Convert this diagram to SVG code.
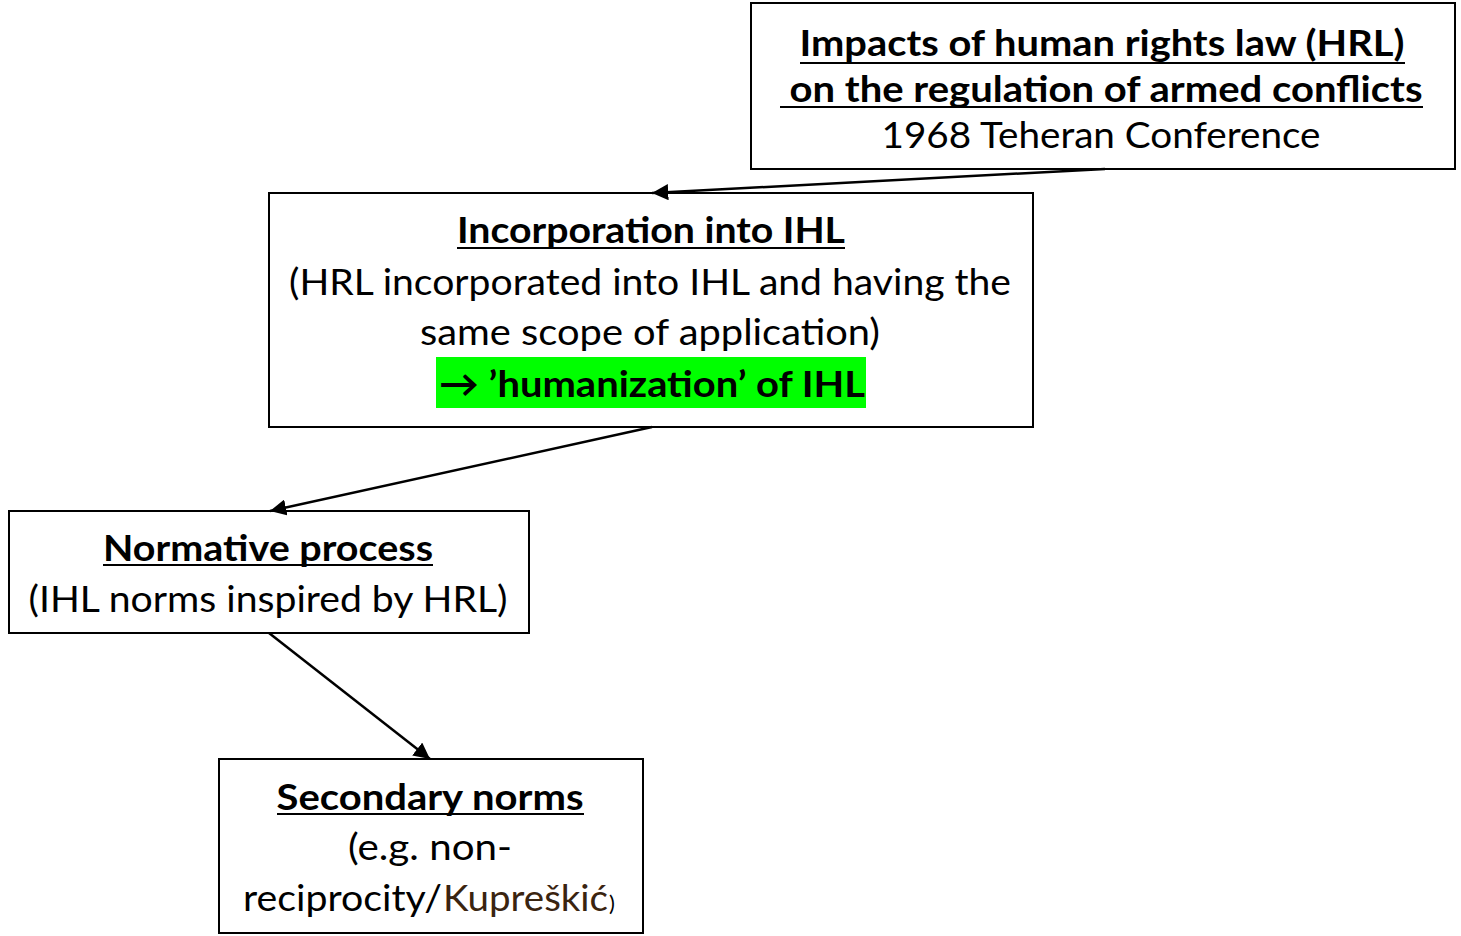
<svg xmlns="http://www.w3.org/2000/svg" width="1461" height="936" viewBox="0 0 1461 936">
<defs>
<style>
.box{fill:#fff;stroke:#000;stroke-width:2}
.t{font-family:Lato,"Open Sans","Liberation Sans",sans-serif;font-size:37px;fill:#000;text-anchor:middle}
.b{font-weight:bold}
.ul{stroke:#000;stroke-width:2}
.con{stroke:#000;stroke-width:2.5;fill:none;marker-end:url(#ah)}
</style>
<marker id="ah" viewBox="0 0 10 10" refX="10" refY="5" markerWidth="6.5" markerHeight="6.5" markerUnits="strokeWidth" orient="auto">
<path d="M0,0 L10,5 L0,10 z" fill="#000"/>
</marker>
</defs>
<rect width="1461" height="936" fill="#fff"/>
<g id="n1">
<rect class="box" x="751" y="3" width="704" height="166"/>
<text class="t b" x="1102" y="56" textLength="605" lengthAdjust="spacingAndGlyphs">Impacts of human rights law (HRL)</text>
<line class="ul" x1="800" y1="63" x2="1405" y2="63"/>
<text class="t b" x="1106" y="102" textLength="633" lengthAdjust="spacingAndGlyphs">on the regulation of armed conflicts</text>
<line class="ul" x1="780" y1="107" x2="1423" y2="107"/>
<text class="t" x="1101" y="148" textLength="439" lengthAdjust="spacingAndGlyphs">1968 Teheran Conference</text>
</g>
<g id="n2">
<rect class="box" x="269" y="193" width="764" height="234"/>
<text class="t b" x="651" y="243" textLength="388" lengthAdjust="spacingAndGlyphs">Incorporation into IHL</text>
<line class="ul" x1="457" y1="248" x2="845" y2="248"/>
<text class="t" x="650" y="295" textLength="722" lengthAdjust="spacingAndGlyphs">(HRL incorporated into IHL and having the</text>
<text class="t" x="650" y="345" textLength="460" lengthAdjust="spacingAndGlyphs">same scope of application)</text>
<rect x="436" y="357" width="430" height="51" fill="#00ff00"/>
<text class="t b" x="652" y="397" textLength="426" lengthAdjust="spacingAndGlyphs">→ ’humanization’ of IHL</text>
</g>
<g id="n3">
<rect class="box" x="9" y="511" width="520" height="122"/>
<text class="t b" x="268" y="561" textLength="330" lengthAdjust="spacingAndGlyphs">Normative process</text>
<line class="ul" x1="103" y1="565" x2="433" y2="565"/>
<text class="t" x="268" y="612" textLength="479" lengthAdjust="spacingAndGlyphs">(IHL norms inspired by HRL)</text>
</g>
<g id="n4">
<rect class="box" x="219" y="759" width="424" height="174"/>
<text class="t b" x="430" y="810" textLength="307" lengthAdjust="spacingAndGlyphs">Secondary norms</text>
<line class="ul" x1="277" y1="814" x2="584" y2="814"/>
<text class="t" x="430" y="860" textLength="164" lengthAdjust="spacingAndGlyphs">(e.g. non-</text>
<text class="t" x="243" y="911" style="text-anchor:start" textLength="199" lengthAdjust="spacingAndGlyphs">reciprocity/</text>
<text class="t" x="443" y="911" style="text-anchor:start;fill:#3a2410" textLength="165" lengthAdjust="spacingAndGlyphs">Kupreškić</text>
<text class="t" x="609" y="911" style="text-anchor:start;font-size:22px">)</text>
</g>
<g id="connectors">
<line class="con" x1="1105" y1="169" x2="652" y2="193"/>
<line class="con" x1="652" y1="427" x2="270" y2="511"/>
<line class="con" x1="269" y1="633" x2="430" y2="759"/>
</g>
</svg>
